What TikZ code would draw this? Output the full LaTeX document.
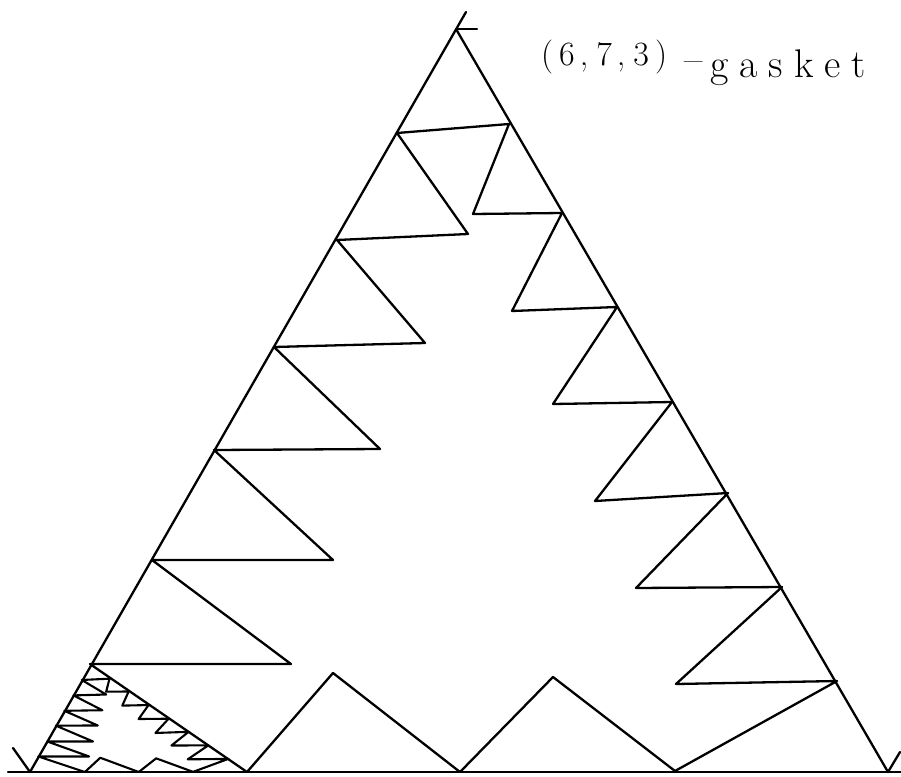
\documentclass[tikz,border=0pt]{standalone}
\usepackage{fontspec}
\begin{document}
\begin{tikzpicture}[x=1pt,y=-1pt,
  pen/.style={line width=2.3pt,line join=round,line cap=round},
  smallpen/.style={line width=2.1pt,line join=round,line cap=round},
  label/.style={inner sep=0pt,anchor=base west,font=\fontsize{34}{36}\selectfont}]
\fill[white] (0,0) rectangle (901,776);
\useasboundingbox (0,0) rectangle (901,776);
% outer triangle
\coordinate (apex) at (456,29);
\coordinate (bl) at (30,772);
\coordinate (br) at (888,772);
\coordinate (tipT) at (466,12);
\coordinate (tickT) at (477,29);
\coordinate (tipL) at (13,748);
\coordinate (tipR) at (900,752);
\coordinate (baseL) at (8,772);
\coordinate (baseR) at (901,772);
\draw[pen] (baseL) -- (baseR);
\draw[pen] (tipL) -- (bl) -- (tipT);
\draw[pen] (apex) -- (br) -- (tipR);
\draw[pen] (apex) -- (tickT);
% zigzag loop and its affine copy in the lower-left sub-triangle
\foreach \n/\x/\y in {1/397/133, 2/468/234, 3/337/240, 4/425/343, 5/274/347,
  6/380/449, 7/214/450, 8/333/560, 9/152/560, 10/291/664, 11/90/664,
  12/247/772, 13/333/673, 14/460/772, 15/553/677, 16/675/771, 17/837/681,
  18/676/684, 19/782/587, 20/636/588, 21/728/493, 22/595/501, 23/672/402,
  24/553/404, 25/617/307, 26/512/311, 27/562/213, 28/473/214, 29/509/124}{
  \coordinate (b\n) at (\x,\y);
  \coordinate (s\n) at ({0.252914*\x+0.064254*\y-27.191},{660.824+0.144011*\y});
}
\draw[pen] (b1) \foreach \i in {2,...,29}{ -- (b\i)} -- cycle;
\draw[smallpen] (s1) \foreach \i in {2,...,29}{ -- (s\i)} -- cycle;
% title
\node[label] (t1) at (541,66) {(\kern6pt6\kern5pt,\kern8pt7\kern5pt,\kern8pt3\kern6pt)};
\node[label,font=\fontsize{40}{42}\selectfont] (t2) at (684,72) {--};
\node[label,font=\fontsize{40}{42}\selectfont] (t3) at (710,77)
  {g\kern11pt a\kern11pt s\kern11pt k\kern11pt e\kern11pt t};
\end{tikzpicture}
\end{document}
